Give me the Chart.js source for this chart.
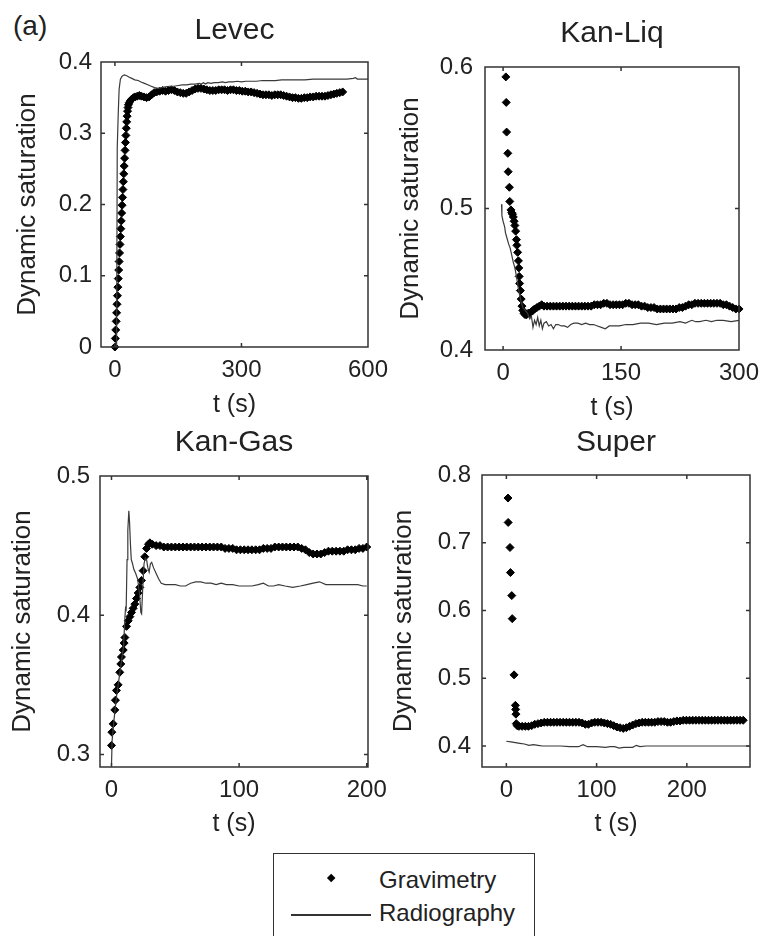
<!DOCTYPE html>
<html>
<head>
<meta charset="utf-8">
<script src="https://cdn.jsdelivr.net/npm/chart.js@4.4.1/dist/chart.umd.min.js"></script>
<style>
html,body{margin:0;padding:0;background:#fff;}
body{width:760px;height:936px;position:relative;overflow:hidden;font-family:"Liberation Sans",Arial,sans-serif;color:#222;}
.panel{position:absolute;}
.panel canvas{display:block;}
#tag{position:absolute;left:13px;top:12px;font-size:28px;line-height:28px;}
#legend{position:absolute;left:273px;top:853px;width:262px;height:110px;border:1.5px solid #333;box-sizing:border-box;}
#legend .mk{position:absolute;left:54px;top:21px;width:6.4px;height:6.4px;background:#000;transform:rotate(45deg);}
#legend .ln{position:absolute;left:17px;top:60px;width:80px;height:1.6px;background:#333;}
#legend .tx{position:absolute;left:105px;font-size:24px;line-height:24px;white-space:nowrap;}
</style>
</head>
<body>
<div id="tag">(a)</div>
<div id="legend"><div class="mk"></div><div class="tx" id="lg1" style="top:13.5px"></div><div class="ln"></div><div class="tx" id="lg2" style="top:46.5px"></div></div>
<script>
// ---------- data ----------
const panelTitles = ['Levec', 'Kan-Liq', 'Kan-Gas', 'Super'];
const seriesNames = ['Gravimetry', 'Radiography'];
const xAxisTitle = 't (s)';
const yAxisTitle = 'Dynamic saturation';

// Levec
const levecXTicks = [0, 300, 600];
const levecYTicks = [0, 0.1, 0.2, 0.3, 0.4];
const levecGravT = [0,1,2,3,4,5,6,7,8,9,10,11,12,13,14,15,16,17,18,19,20,21,22,23,24,25,26,27,28,29,30,31,
  32,34,37,40,44,48,53,58,63,69,75,81,87,93,99,
  106,113,120,127,134,141,148,155,162,169,176,183,190,197,204,211,218,225,232,239,246,253,260,267,274,281,288,295,302,309,316,323,330,337,344,351,358,365,372,379,386,393,400,407,414,421,428,435,442,449,456,463,470,477,484,491,498,505,512,519,526,533,540];
const levecGravS = [0.000,0.012,0.024,0.036,0.048,0.060,0.072,0.084,0.096,0.108,0.120,0.132,0.144,0.155,0.166,0.177,0.188,0.199,0.210,0.221,0.232,0.243,0.254,0.265,0.276,0.287,0.297,0.307,0.316,0.324,0.331,0.336,
  0.340,0.343,0.346,0.348,0.350,0.351,0.352,0.353,0.352,0.351,0.350,0.351,0.354,0.357,0.358,
  0.359,0.360,0.359,0.360,0.361,0.360,0.358,0.357,0.356,0.356,0.358,0.360,0.362,0.363,0.363,0.362,0.361,0.360,0.360,0.360,0.361,0.361,0.361,0.360,0.361,0.361,0.360,0.360,0.359,0.359,0.358,0.358,0.357,0.356,0.355,0.354,0.354,0.354,0.353,0.354,0.354,0.354,0.353,0.352,0.351,0.350,0.350,0.349,0.349,0.350,0.350,0.351,0.351,0.352,0.352,0.352,0.352,0.353,0.354,0.355,0.356,0.357,0.358];
const levecRadT = [4,5.5,8,10,13,17,22,27,33,40,47,55,62,70,78,86,94,102,110,120,130,140,150,160,170,180,190,200,205,210,215,220,228,235,245,255,262,270,280,290,300,310,320,335,350,365,380,395,410,430,450,470,490,510,530,550,565,570,575,590,600];
const levecRadS = [0.000,0.279,0.330,0.362,0.376,0.380,0.382,0.381,0.379,0.377,0.375,0.374,0.372,0.370,0.368,0.366,0.364,0.363,0.364,0.365,0.366,0.366,0.367,0.368,0.368,0.369,0.369,0.370,0.369,0.371,0.369,0.371,0.370,0.371,0.371,0.372,0.371,0.372,0.372,0.373,0.372,0.373,0.373,0.373,0.374,0.374,0.374,0.375,0.375,0.375,0.375,0.376,0.376,0.376,0.376,0.376,0.377,0.378,0.376,0.376,0.376];

// Kan-Liq
const kanLiqXTicks = [0, 150, 300];
const kanLiqYTicks = [0.4, 0.5, 0.6];
const kanLiqGravT = [3.5,4,4.5,6,6.5,8,8.5,10,11,12,13,14,15,16,17,17.5,18.5,19.5,20,20.5,21,22,23,24,25,26.5,28,30,32,34,36,38,40,43,46,49,
  52,56,60,64,68,72,76,80,84,88,92,96,100,104,108,112,116,120,124,128,132,136,140,144,148,152,156,160,164,168,172,176,180,184,188,192,196,200,204,208,212,216,220,224,228,232,236,240,244,248,252,256,260,264,268,272,276,280,284,288,292,296,300];
const kanLiqGravS = [0.593,0.575,0.554,0.539,0.526,0.515,0.505,0.499,0.497,0.496,0.494,0.491,0.488,0.484,0.478,0.474,0.469,0.463,0.458,0.452,0.447,0.442,0.436,0.431,0.428,0.426,0.425,0.425,0.426,0.426,0.427,0.428,0.429,0.430,0.431,0.432,
  0.431,0.431,0.431,0.431,0.431,0.431,0.431,0.431,0.431,0.431,0.431,0.431,0.431,0.431,0.431,0.431,0.432,0.432,0.432,0.433,0.433,0.432,0.432,0.432,0.432,0.432,0.433,0.433,0.432,0.432,0.432,0.431,0.431,0.430,0.430,0.430,0.429,0.429,0.429,0.429,0.429,0.429,0.429,0.430,0.430,0.431,0.432,0.432,0.433,0.433,0.433,0.433,0.433,0.433,0.433,0.433,0.433,0.432,0.432,0.431,0.430,0.429,0.429];
const kanLiqRadT = [-2,-1.5,0,2,3,5,7,9,11,13,15,17,19,21,23,25,28,31,34,36,38,40,42,44,46,48,50,52,55,58,61,64,67,70,74,78,82,86,90,95,100,105,110,115,120,125,130,135,140,148,156,165,175,185,195,205,215,225,232,240,245,250,258,265,272,280,290,300];
const kanLiqRadS = [0.503,0.495,0.491,0.487,0.483,0.479,0.475,0.472,0.467,0.462,0.458,0.452,0.445,0.439,0.434,0.430,0.428,0.426,0.422,0.424,0.416,0.421,0.418,0.423,0.417,0.421,0.415,0.419,0.420,0.417,0.418,0.415,0.418,0.418,0.417,0.417,0.416,0.418,0.419,0.419,0.418,0.419,0.418,0.418,0.417,0.416,0.415,0.417,0.417,0.417,0.418,0.418,0.419,0.419,0.418,0.419,0.419,0.420,0.419,0.421,0.420,0.420,0.421,0.420,0.421,0.421,0.420,0.421];

// Kan-Gas
const kanGasXTicks = [0, 100, 200];
const kanGasYTicks = [0.3, 0.4, 0.5];
const kanGasGravT = [0,0.3,1.3,2.6,3.1,3.9,5.2,6.5,7.3,7.8,9.2,9.9,10.5,11.8,13.1,14.4,15.7,17,18.3,19.6,20.9,22.2,23.5,24.8,26.1,27.5,29,30.1,32,
  35,38,41,44,47,50,53,56,59,62,65,68,71,74,77,80,83,86,89,92,95,98,101,104,107,110,113,116,119,122,125,128,131,134,137,140,143,146,149,152,155,158,161,164,167,170,173,176,179,182,185,188,191,194,197,200];
const kanGasGravS = [0.3065,0.316,0.322,0.332,0.339,0.346,0.350,0.359,0.365,0.370,0.375,0.380,0.384,0.392,0.396,0.399,0.402,0.405,0.408,0.412,0.416,0.420,0.425,0.432,0.442,0.448,0.451,0.452,0.451,
  0.450,0.450,0.449,0.449,0.449,0.449,0.449,0.449,0.449,0.449,0.449,0.449,0.449,0.449,0.449,0.449,0.449,0.449,0.448,0.448,0.448,0.447,0.447,0.447,0.447,0.447,0.447,0.447,0.448,0.448,0.448,0.449,0.449,0.449,0.449,0.449,0.449,0.449,0.448,0.447,0.445,0.444,0.444,0.444,0.445,0.446,0.446,0.446,0.446,0.446,0.447,0.447,0.447,0.448,0.448,0.449];
const kanGasRadT = [0,0.5,2,4,6,8,9.5,10.5,11,11.5,12.2,12.8,13.6,14.2,14.8,15.5,16.5,17.5,19,20.5,22,23,23.6,24.5,25.5,26.5,27.5,28.5,29.5,30.5,31.5,33,35,37,39,42,46,50,54,58,62,66,70,74,78,82,86,90,95,100,105,110,115,119,123,127,131,136,142,148,153,158,163,168,173,178,183,188,193,197,200];
const kanGasRadS = [0.292,0.310,0.325,0.342,0.355,0.368,0.378,0.398,0.405,0.404,0.440,0.461,0.475,0.466,0.452,0.440,0.437,0.433,0.430,0.426,0.415,0.402,0.401,0.420,0.437,0.441,0.440,0.434,0.431,0.437,0.438,0.434,0.430,0.426,0.423,0.422,0.422,0.422,0.421,0.421,0.423,0.424,0.424,0.423,0.423,0.422,0.423,0.422,0.422,0.421,0.421,0.421,0.422,0.423,0.421,0.421,0.422,0.421,0.420,0.421,0.422,0.423,0.424,0.422,0.422,0.422,0.422,0.422,0.422,0.421,0.421];

// Super
const superXTicks = [0, 100, 200];
const superYTicks = [0.4, 0.5, 0.6, 0.7, 0.8];
const superGravT = [1.8,2.0,4.0,4.5,6.0,6.5,8.5,10.0,10.3,10.6,11.0,12.0,
  14,17.5,21,24.5,28,31.5,35,38.5,42,45.5,49,52.5,56,59.5,63,66.5,70,73.5,77,80.5,84,87.5,91,94.5,98,101.5,105,108.5,112,115.5,119,122.5,126,129.5,133,136.5,140,143.5,147,150.5,154,157.5,161,164.5,168,171.5,175,178.5,182,185.5,189,192.5,196,199.5,203,206.5,210,213.5,217,220.5,224,227.5,231,234.5,238,241.5,245,248.5,252,255.5,259,262.5];
const superGravS = [0.766,0.730,0.693,0.656,0.622,0.588,0.505,0.460,0.454,0.447,0.433,0.430,
  0.429,0.429,0.429,0.429,0.430,0.432,0.433,0.434,0.435,0.435,0.435,0.435,0.435,0.435,0.435,0.435,0.435,0.435,0.435,0.435,0.434,0.432,0.432,0.434,0.435,0.435,0.435,0.434,0.433,0.432,0.430,0.428,0.427,0.426,0.427,0.429,0.431,0.433,0.434,0.435,0.435,0.435,0.435,0.435,0.436,0.436,0.436,0.435,0.435,0.436,0.437,0.437,0.438,0.438,0.438,0.438,0.438,0.438,0.438,0.438,0.438,0.438,0.438,0.438,0.438,0.438,0.438,0.438,0.438,0.438,0.438,0.438];
const superRadT = [0,5,10,15,20,25,30,35,40,45,50,60,70,80,85,90,100,110,115,120,125,130,135,140,144,148,155,170,190,210,230,250,270];
const superRadS = [0.407,0.406,0.405,0.404,0.403,0.401,0.402,0.401,0.400,0.400,0.400,0.400,0.399,0.399,0.402,0.399,0.399,0.398,0.399,0.399,0.397,0.398,0.398,0.398,0.401,0.399,0.400,0.400,0.400,0.400,0.400,0.400,0.400];

// axis ranges
const xRanges = [[-33, 600], [-23, 300], [-9, 201], [-27, 270]];
const yRanges = [[0, 0.4], [0.4, 0.6], [0.291, 0.5], [0.369, 0.8]];

// ---------- layout (pixels) ----------
const boxes = [
  {left:0,   top:0,   w:392, h:425, L:101, T:62,  R:368, B:347, titleY:31,  yTitleX:28,    xTickY:370, xTitleY:405, yTickGap:9},
  {left:392, top:0,   w:368, h:425, L:485, T:67,  R:739, B:350, titleY:34,  yTitleX:410.5, xTickY:373, xTitleY:408, yTickGap:12},
  {left:0,   top:425, w:392, h:425, L:100, T:476, R:368, B:767, titleY:443, yTitleX:23,    xTickY:790, xTitleY:824, yTickGap:10},
  {left:392, top:425, w:368, h:425, L:482, T:475, R:750, B:767, titleY:443, yTitleX:404,   xTickY:790, xTitleY:824, yTickGap:11}
];

const panelsData = [
  {gT: levecGravT, gS: levecGravS, rT: levecRadT, rS: levecRadS, xt: levecXTicks, yt: levecYTicks},
  {gT: kanLiqGravT, gS: kanLiqGravS, rT: kanLiqRadT, rS: kanLiqRadS, xt: kanLiqXTicks, yt: kanLiqYTicks},
  {gT: kanGasGravT, gS: kanGasGravS, rT: kanGasRadT, rS: kanGasRadS, xt: kanGasXTicks, yt: kanGasYTicks},
  {gT: superGravT, gS: superGravS, rT: superRadT, rS: superRadS, xt: superXTicks, yt: superYTicks}
];

const FONT = '"Liberation Sans", Arial, Helvetica, sans-serif';
const TXT = '#222';
const AXC = '#333';
const TITLE_SIZE = 30, YT_SIZE = 26, TICK_SIZE = 24, XT_SIZE = 25;
const TICK_IN = 4;

function pts(t, s) { return t.map((x, i) => ({x: x, y: s[i]})); }
function zeroPad(s) { s.paddingLeft = 0; s.paddingRight = 0; s.paddingTop = 0; s.paddingBottom = 0; }

// axes box with inward tick marks, drawn from the chart's own scales
const axesBox = {
  id: 'axesBox',
  afterDraw(chart) {
    const a = chart.chartArea;
    const sx = chart.scales.x, sy = chart.scales.y;
    const c = chart.ctx;
    c.save();
    c.strokeStyle = AXC;
    c.lineWidth = 1.5;
    c.beginPath();
    c.rect(a.left, a.top, a.right - a.left, a.bottom - a.top);
    sx.ticks.forEach(t => {
      const p = sx.getPixelForValue(t.value);
      c.moveTo(p, a.bottom); c.lineTo(p, a.bottom - TICK_IN);
      c.moveTo(p, a.top); c.lineTo(p, a.top + TICK_IN);
    });
    sy.ticks.forEach(t => {
      const p = sy.getPixelForValue(t.value);
      c.moveTo(a.left, p); c.lineTo(a.left + TICK_IN, p);
      c.moveTo(a.right, p); c.lineTo(a.right - TICK_IN, p);
    });
    c.stroke();
    c.restore();
  }
};

boxes.forEach((b, i) => {
  const d = panelsData[i];
  const div = document.createElement('div');
  div.className = 'panel';
  div.style.left = b.left + 'px'; div.style.top = b.top + 'px';
  const cv = document.createElement('canvas');
  cv.width = b.w; cv.height = b.h;
  div.appendChild(cv);
  document.body.appendChild(div);

  const yW = b.L - b.left, topH = b.T - b.top, rightPad = b.left + b.w - b.R, bottomH = b.top + b.h - b.B;
  const titlePad = b.titleY - b.top - TITLE_SIZE * 1.2 / 2;
  const yTitlePad = b.yTitleX - b.left - YT_SIZE * 1.2 / 2;
  const xTickPad = b.xTickY - b.B - TICK_SIZE * 1.2 / 2;
  const xTitlePad = b.top + b.h - b.xTitleY - XT_SIZE * 1.2 / 2;
  const setX = s => { s.ticks = d.xt.map(v => ({value: v})); };
  const setY = s => { s.ticks = d.yt.map(v => ({value: v})); };
  const noGrid = {display: false, drawTicks: false, tickLength: 0};

  new Chart(cv, {
    type: 'scatter',
    data: {
      datasets: [
        {label: seriesNames[1], data: pts(d.rT, d.rS), showLine: true, borderColor: '#3a3a3a', borderWidth: 1.2,
         pointRadius: 0, order: 0},
        {label: seriesNames[0], data: pts(d.gT, d.gS), showLine: false, pointStyle: 'rectRot', pointRadius: 4,
         pointBackgroundColor: '#000', pointBorderColor: '#000', pointBorderWidth: 1, clip: false, order: 1}
      ]
    },
    options: {
      responsive: false, animation: false, events: [],
      layout: {autoPadding: false, padding: {left: 0, top: 0, right: rightPad, bottom: 0}},
      plugins: {legend: {display: false}, title: {display: false}, tooltip: {enabled: false}},
      scales: {
        x: {
          type: 'linear', position: 'bottom', min: xRanges[i][0], max: xRanges[i][1],
          afterBuildTicks: setX,
          afterFit: s => { s.height = bottomH; zeroPad(s); },
          grid: noGrid, border: {display: false},
          ticks: {font: {family: FONT, size: TICK_SIZE}, color: TXT, padding: xTickPad, maxRotation: 0, autoSkip: false, callback: v => String(v)},
          title: {display: true, text: xAxisTitle, font: {family: FONT, size: XT_SIZE}, color: TXT, padding: {top: 0, bottom: xTitlePad}}
        },
        x2: {
          type: 'linear', position: 'top', min: xRanges[i][0], max: xRanges[i][1],
          afterBuildTicks: setX,
          afterFit: s => { s.height = topH; zeroPad(s); },
          grid: noGrid, border: {display: false},
          ticks: {display: false},
          title: {display: true, text: panelTitles[i], font: {family: FONT, size: TITLE_SIZE}, color: TXT, padding: {top: titlePad, bottom: 0}}
        },
        y: {
          type: 'linear', position: 'left', min: yRanges[i][0], max: yRanges[i][1],
          afterBuildTicks: setY,
          afterFit: s => { s.width = yW; zeroPad(s); },
          grid: noGrid, border: {display: false},
          ticks: {font: {family: FONT, size: TICK_SIZE}, color: TXT, padding: b.yTickGap, autoSkip: false, callback: v => String(v)},
          title: {display: true, text: yAxisTitle, font: {family: FONT, size: YT_SIZE}, color: TXT, padding: {top: yTitlePad, bottom: 0}}
        }
      }
    },
    plugins: [axesBox]
  });
});

document.getElementById('lg1').textContent = seriesNames[0];
document.getElementById('lg2').textContent = seriesNames[1];
</script>
</body>
</html>
